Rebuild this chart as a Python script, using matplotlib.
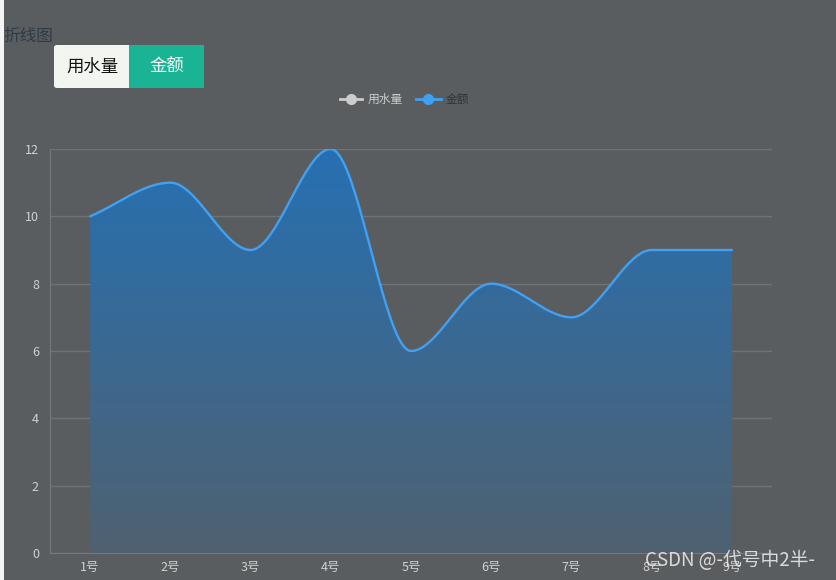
import numpy as np
import matplotlib.pyplot as plt
from matplotlib.patches import Rectangle, FancyBboxPatch
from matplotlib.lines import Line2D

plt.rcParams['font.family'] = ['Noto Sans CJK SC', 'DejaVu Sans']

# 数据
days = ["1号", "2号", "3号", "4号", "5号", "6号", "7号", "8号", "9号"]
amount = [10, 11, 9, 12, 6, 8, 7, 9, 9]
y_ticks = [0, 2, 4, 6, 8, 10, 12]

W, H = 837, 580
bg = '#5a5d60'


def monotone_curve(x, y, n=40):
    """Curva suave monótona (tipo pchip) entre los puntos."""
    x = np.asarray(x, float)
    y = np.asarray(y, float)
    h = np.diff(x)
    d = np.diff(y) / h
    m = np.zeros_like(y)
    m[0], m[-1] = d[0], d[-1]
    for i in range(1, len(y) - 1):
        if d[i - 1] * d[i] > 0:
            m[i] = 2 * d[i - 1] * d[i] / (d[i - 1] + d[i])
    xs, ys = [], []
    for i in range(len(x) - 1):
        t = np.linspace(0, 1, n)
        h00 = 2 * t**3 - 3 * t**2 + 1
        h10 = t**3 - 2 * t**2 + t
        h01 = -2 * t**3 + 3 * t**2
        h11 = t**3 - t**2
        xs.append(x[i] + t * h[i])
        ys.append(h00 * y[i] + h10 * h[i] * m[i] + h01 * y[i + 1] + h11 * h[i] * m[i + 1])
    return np.concatenate(xs), np.concatenate(ys)


fig = plt.figure(figsize=(W / 100, H / 100), dpi=100)
fig.patch.set_facecolor(bg)
fig.patches.append(Rectangle((0, 0), 4 / W, 1, transform=fig.transFigure,
                             facecolor='#f4f4f4', edgecolor='none'))

ax = fig.add_axes([50 / W, (H - 553) / H, 722 / W, 404 / H])
ax.set_facecolor(bg)

x = np.arange(len(days))
cx, cy = monotone_curve(x, amount)

# relleno con degradado
grad = np.linspace(0, 1, 256).reshape(-1, 1)
top = np.array([0.15, 0.44, 0.70])
bot = np.array([0.31, 0.38, 0.44])
img = top * (1 - grad[..., None]) + bot * grad[..., None]
img = img.reshape(256, 1, 3)
im = ax.imshow(img, extent=[-0.5, len(days) - 0.5, 0, 12], aspect='auto',
               origin='upper', zorder=1)
poly = ax.fill_between(cx, cy, 0, facecolor='none', edgecolor='none')
im.set_clip_path(poly.get_paths()[0], transform=ax.transData)

ax.plot(cx, cy, color='#42a0f2', lw=1.7, zorder=3, solid_capstyle='round')

ax.set_xlim(-0.5, len(days) - 0.5)
ax.set_ylim(0, 12)
ax.set_yticks(y_ticks)
ax.set_xticks(x)
ax.set_xticklabels(days)
ax.grid(axis='y', color='#6f7275', lw=1)
ax.set_axisbelow(True)
for s in ['top', 'right']:
    ax.spines[s].set_visible(False)
for s in ['left', 'bottom']:
    ax.spines[s].set_color('#75787b')
ax.tick_params(colors='#d0d0d0', labelsize=9, length=0)
ax.tick_params(axis='y', pad=8)
ax.tick_params(axis='x', pad=6)

# título
fig.text(3 / W, 1 - 36 / H, "折线图", fontsize=12, color='#2f3b45', va='center')

# botones
b1 = FancyBboxPatch((54 / W, 1 - 88 / H), 150 / W, 43 / H,
                    boxstyle='round,pad=0,rounding_size=0.004',
                    transform=fig.transFigure, facecolor='#f3f5f0', edgecolor='none')
fig.patches.append(b1)
fig.patches.append(Rectangle((129 / W, 1 - 88 / H), 75 / W, 43 / H,
                             transform=fig.transFigure, facecolor='#1ab394', edgecolor='none'))
fig.text(92 / W, 1 - 67 / H, "用水量", fontsize=12.5, color='#111111', ha='center', va='center')
fig.text(167 / W, 1 - 67 / H, "金额", fontsize=12.5, color='white', ha='center', va='center')

# leyenda
ly = 1 - 99 / H
fig.lines.append(Line2D([340 / W, 362 / W], [ly, ly], transform=fig.transFigure,
                        color='#cccccc', lw=2, marker=None))
fig.lines.append(Line2D([351 / W], [ly], transform=fig.transFigure, color='#cccccc',
                        marker='o', markersize=7))
fig.text(368 / W, ly, "用水量", fontsize=8.5, color='#cccccc', va='center')
fig.lines.append(Line2D([416 / W, 441 / W], [ly, ly], transform=fig.transFigure,
                        color='#42a0f2', lw=2))
fig.lines.append(Line2D([428 / W], [ly], transform=fig.transFigure, color='#42a0f2',
                        marker='o', markersize=7))
fig.text(446 / W, ly, "金额", fontsize=8.5, color='#333333', va='center')

# marca de agua
fig.text(645 / W, 1 - 560 / H, "CSDN @-代号中2半-", fontsize=13.5, color='#e8e8e8',
         va='center', alpha=0.9)

fig.savefig("out.png", dpi=100, facecolor=fig.get_facecolor())
